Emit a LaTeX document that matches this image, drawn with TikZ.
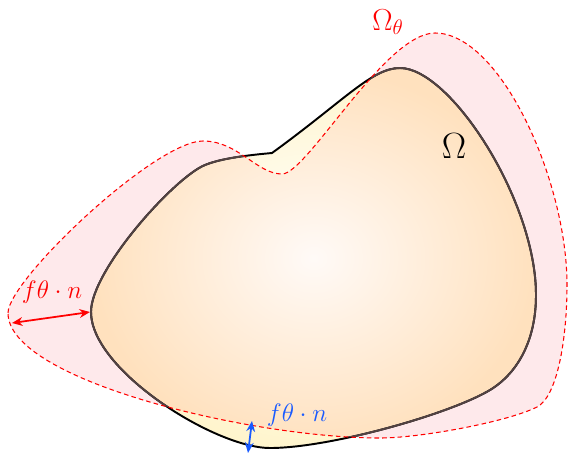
\documentclass[tikz,border=0pt]{standalone}
\usetikzlibrary{arrows.meta}
\definecolor{pinkfill}{RGB}{254,233,235}
\definecolor{peach}{RGB}{255,225,190}
\definecolor{paleyellow}{RGB}{255,245,205}
\definecolor{centerpink}{RGB}{255,250,247}
\definecolor{edgegrey}{RGB}{82,66,66}
\definecolor{myblue}{RGB}{25,90,255}
\def\OmegaPath{(272,153) .. controls (345,100) and (372,68) .. (400,68)
  .. controls (450,68) and (536,200) .. (536,295)
  .. controls (536,340) and (518,373) .. (490,390)
  .. controls (450,414) and (330,448) .. (270,448)
  .. controls (215,448) and (91,370) .. (91,312)
  .. controls (91,270) and (175,177) .. (205,165)
  .. controls (222,158) and (250,155) .. (272,153) -- cycle}
\def\ThetaPath{(8,313) .. controls (8,280) and (155,141) .. (203,141)
  .. controls (238,141) and (257,174) .. (282,174)
  .. controls (307,174) and (385,33) .. (435,33)
  .. controls (500,33) and (567,180) .. (567,285)
  .. controls (567,340) and (557,397) .. (537,407)
  .. controls (507,422) and (420,438) .. (380,438)
  .. controls (250,438) and (8,380) .. (8,313) -- cycle}
\tikzset{
  omegaline/.style={line width=1.1pt, line join=round},
  thetaline/.style={red, line width=0.6pt, dash pattern=on 2.6pt off 1.8pt},
  dblarrow/.style={line width=1pt, {Stealth[length=6pt,width=5pt]}-{Stealth[length=6pt,width=5pt]}},
  lab/.style={inner sep=1pt}
}
\begin{document}
\begin{tikzpicture}[x=0.02cm,y=-0.02cm]
\useasboundingbox (0,0) rectangle (568,454);
\fill[pinkfill] \ThetaPath;
\shade[inner color=white, outer color=paleyellow] \OmegaPath;
\begin{scope}
  \clip \ThetaPath;
  \shade[inner color=centerpink, outer color=peach] \OmegaPath;
\end{scope}
\draw[omegaline] \OmegaPath;
\begin{scope}
  \clip \ThetaPath;
  \draw[omegaline, edgegrey] \OmegaPath;
\end{scope}
\draw[thetaline] \ThetaPath;
% arrows
\coordinate (ra) at (12,323);
\coordinate (rb) at (90,312);
\coordinate (ba) at (252,421);
\coordinate (bb) at (248,453);
\draw[dblarrow, red] (ra) -- (rb);
\draw[dblarrow, myblue] (ba) -- (bb);
% labels
\node[lab, text=red, font=\Large] (labr) at (52,292) {$f\theta\cdot n$};
\node[lab, text=myblue, font=\Large] (labb) at (297,415) {$f\theta\cdot n$};
\node[lab, text=red, font=\LARGE] (omt) at (388,22) {$\Omega_\theta$};
\node[lab, font=\huge] (om) at (454,146) {$\Omega$};
\end{tikzpicture}
\end{document}
